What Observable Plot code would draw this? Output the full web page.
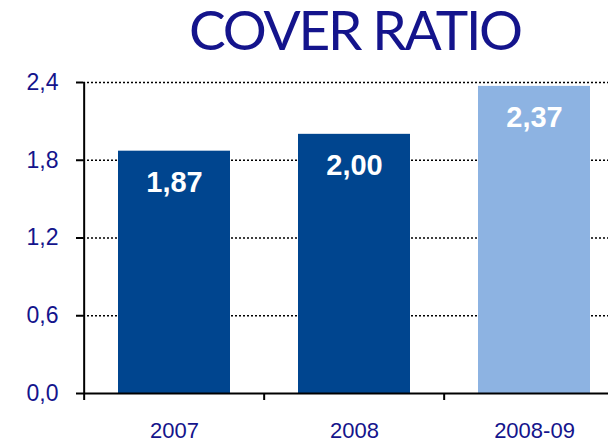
<!DOCTYPE html>
<html>
<head>
<meta charset="utf-8">
<script src="https://cdn.jsdelivr.net/npm/d3@7"></script>
<script src="https://cdn.jsdelivr.net/npm/@observablehq/plot@0.6"></script>
<style>
  html, body { margin: 0; padding: 0; background: #fff; }
  #wrap { position: relative; width: 608px; height: 442px; overflow: hidden; }
  #title { position: absolute; left: 189px; top: 2px; font-family: Lato, sans-serif; font-size: 55px; color: #14148c; white-space: nowrap; line-height: 1; letter-spacing: -2.2px; }
  #chart { position: absolute; left: 0; top: 0; }
</style>
</head>
<body>
<div id="wrap">
  <div id="chart"></div>
  <div id="title">COVER RATIO</div>
</div>
<script>
const categories = ["2007", "2008", "2008-09"];
const values = [1.87, 2.00, 2.37];
const yTicks = [0, 0.6, 1.2, 1.8, 2.4];
const highlight = "2008-09";

const data = categories.map((c, i) => ({cat: c, value: values[i]}));
const comma = (v, d) => v.toFixed(d).replace(".", ",");
const navy = "#14148c";
const dark = "#00458f";
const light = "#8db3e2";
const font = "'Liberation Sans', Arial, sans-serif";

const xRange = [83, 625];
const step = (xRange[1] - xRange[0]) / categories.length;

const chart = Plot.plot({
  width: 608,
  height: 442,
  marginLeft: 83,
  marginRight: 0,
  marginTop: 82,
  marginBottom: 49,
  style: {fontFamily: font, background: "transparent", overflow: "visible"},
  x: {type: "band", domain: categories, range: xRange, padding: 0},
  y: {domain: [0, 2.4], range: [393, 82]},
  marks: [
    Plot.ruleY(yTicks.slice(1), {stroke: "black", strokeWidth: 1.5, strokeDasharray: "2,2"}),
    Plot.barY(data, {
      x: "cat", y: "value",
      fill: d => d.cat === highlight ? light : dark,
      insetLeft: 34, insetRight: 34
    }),
    Plot.text(data, {
      x: "cat", y: "value",
      text: d => comma(d.value, 2),
      fill: "white", fontSize: 29, fontWeight: "bold",
      lineAnchor: "top", dy: 20
    }),
    Plot.axisY({
      ticks: yTicks, tickFormat: v => comma(v, 1),
      tickSize: 7, tickPadding: 18, fontSize: 23,
      fill: navy, stroke: "black", strokeWidth: 2, label: null
    }),
    Plot.axisX({
      tickSize: 0, tickPadding: 29, fontSize: 22,
      fill: navy, label: null
    }),
    // axis lines
    Plot.ruleY([0], {stroke: "black", strokeWidth: 2}),
    Plot.ruleX([categories[0]], {x: d => d, dx: -step / 2, stroke: "black", strokeWidth: 2}),
    // x tick marks at category boundaries
    Plot.ruleX(categories, {
      x: d => d, dx: -step / 2, y1: 0, y2: 0, insetBottom: -7,
      stroke: "black", strokeWidth: 2
    })
  ]
});
document.getElementById("chart").appendChild(chart);
</script>
</body>
</html>
